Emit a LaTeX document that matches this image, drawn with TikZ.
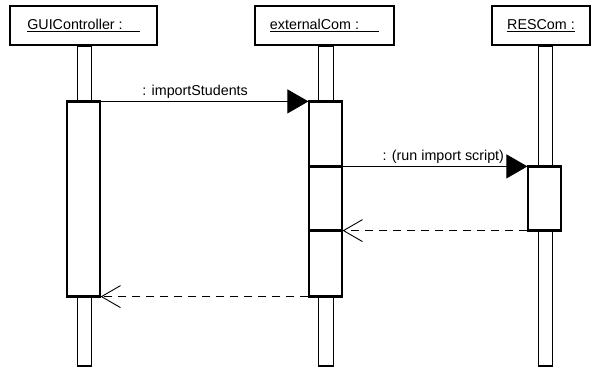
\documentclass[tikz,border=0pt]{standalone}
\usepackage{fontspec}
\setmainfont{Liberation Sans}
\usetikzlibrary{arrows.meta}
\begin{document}
\begin{tikzpicture}[x=1pt,y=-1pt,
  head/.style={draw, line width=1.3pt, fill=white, minimum width=147pt, minimum height=39pt, inner sep=0pt, font=\fontsize{14.3}{16}\selectfont},
  tailbox/.style={draw, line width=1.2pt, fill=white, minimum width=14.5pt, inner sep=0pt},
  actbox/.style={draw, line width=1.2pt, fill=white, minimum width=33pt, inner sep=0pt},
  thickh/.style={line width=2.6pt, line cap=butt},
  callmsg/.style={line width=0.9pt, -{Triangle[length=21pt,width=24pt]}},
  retmsg/.style={line width=0.9pt, dash pattern=on 8pt off 6pt, -{Straight Barb[length=19pt,width=22pt,line width=0.9pt]}},
  lbl/.style={font=\fontsize{14.3}{16}\selectfont, inner sep=0pt, anchor=base}
]
\useasboundingbox (0,0) rectangle (592,369);
% heads
\node[head] (h1) at (83.5,25.5) {\underline{GUIController :\hspace{17pt}}};
\node[head, minimum width=139pt] (h2) at (324.5,25.5) {\underline{externalCom :\hspace{20pt}}};
\node[head, minimum width=98pt] (h3) at (541,25.5) {\underline{RESCom :}};
% lifeline tails
\node[tailbox, minimum height=56pt] (t1a) at (84.5,74) {};
\node[tailbox, minimum height=70pt] (t1b) at (84.5,331) {};
\node[tailbox, minimum height=56pt] (t2a) at (326,74) {};
\node[tailbox, minimum height=70pt] (t2b) at (326,331) {};
\node[tailbox, minimum height=121pt] (t3a) at (545.5,106.5) {};
\node[tailbox, minimum height=136pt] (t3b) at (545.5,298) {};
% activations
\node[actbox, minimum height=194pt] (a1) at (83.5,199) {};
\node[actbox, minimum height=194pt] (a2) at (325.5,199) {};
\node[actbox, minimum height=63pt] (a3) at (544.5,198.5) {};
% thick horizontal edges
\draw[thickh] (a1.north west) -- (a1.north east);
\draw[thickh] (a1.south west) -- (a1.south east);
\draw[thickh] (a2.north west) -- (a2.north east);
\draw[thickh] (a2.south west) -- (a2.south east);
\draw[thickh] (a3.north west -| a2.west) -- (a3.north west -| a2.east);
\draw[thickh] (a3.south west -| a2.west) -- (a3.south west -| a2.east);
\draw[thickh] (a3.north west) -- (a3.north east);
\draw[thickh] (a3.south west) -- (a3.south east);
% messages
\draw[callmsg] (a1.north east) -- node[lbl, pos=0.455, yshift=6pt] {: importStudents} (a2.north west);
\draw[callmsg] (a3.north west -| a2.east) -- node[lbl, pos=0.545, yshift=6pt] {: (run import script)} (a3.north west);
\draw[retmsg] (a3.south west) -- (a3.south west -| a2.east);
\draw[retmsg] (a2.south west) -- (a1.south east);
\end{tikzpicture}
\end{document}
